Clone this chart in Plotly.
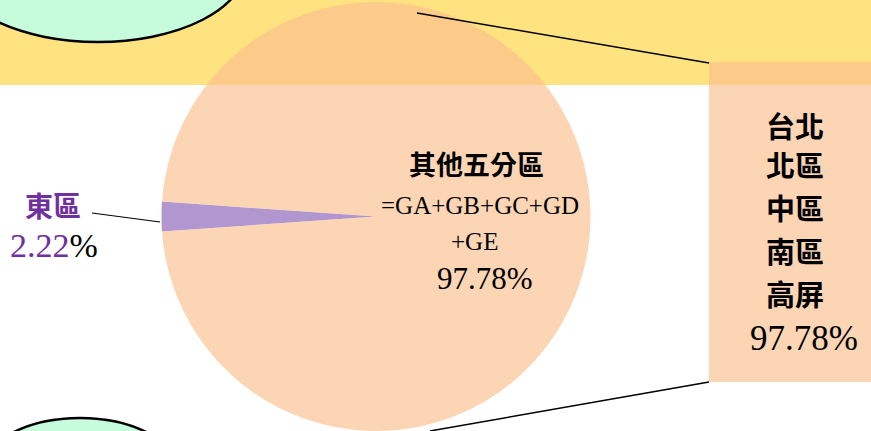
import plotly.graph_objects as go

# ---- data ----
regions = ["東區", "其他五分區"]
shares = [2.22, 97.78]
center_label_lines = ["其他五分區", "=GA+GB+GC+GD", "+GE", "97.78%"]
box_label_lines = ["台北", "北區", "中區", "南區", "高屏", "97.78%"]
east_label = "東區"
east_value = "2.22"

W, H = 871, 431
CJK = "Noto Sans CJK TC"
SERIF = "Liberation Serif, Noto Sans CJK TC"

def px(x):
    return x / W

def py(y):
    return 1 - y / H

def is_cjk(txt):
    return any(ord(c) > 0x2E80 for c in txt)

slice_colors = ["rgba(135,94,183,0.65)", "rgba(250,190,141,0.65)"]

fig = go.Figure()
fig.add_trace(go.Pie(
    labels=regions,
    values=shares,
    sort=False,
    direction="clockwise",
    rotation=266,
    marker=dict(colors=slice_colors, line=dict(width=0)),
    textinfo="none",
    hoverinfo="label+percent",
    showlegend=False,
    domain=dict(x=[px(376 - 215), px(376 + 215)], y=[0, py(2)]),
))

shapes = [
    # yellow band
    dict(type="rect", xref="paper", yref="paper", x0=0, x1=1, y0=py(85), y1=1,
         fillcolor="#FFE381", line=dict(width=0), layer="below"),
    # right box
    dict(type="rect", xref="paper", yref="paper", x0=px(709), x1=1, y0=py(382), y1=py(62),
         fillcolor="rgba(250,190,141,0.65)", line=dict(width=0), layer="above"),
    # leader lines
    dict(type="line", xref="paper", yref="paper", x0=px(417), y0=py(13), x1=px(709), y1=py(63),
         line=dict(color="black", width=1.5)),
    dict(type="line", xref="paper", yref="paper", x0=px(430), y0=py(431), x1=px(709), y1=py(382),
         line=dict(color="black", width=1.5)),
    dict(type="line", xref="paper", yref="paper", x0=px(92), y0=py(213), x1=px(160), y1=py(222),
         line=dict(color="black", width=1.2)),
    # green ellipses
    dict(type="circle", xref="paper", yref="paper", x0=px(-50), x1=px(246), y0=py(42), y1=py(-110),
         fillcolor="#C6FCDC", line=dict(color="black", width=2.5), layer="above"),
    dict(type="circle", xref="paper", yref="paper", x0=px(-25), x1=px(185), y0=py(544), y1=py(418),
         fillcolor="#C6FCDC", line=dict(color="black", width=2.5), layer="above"),
]

annotations = []
# center label
center_y = [163, 205, 241, 278]
center_x = [476, 480, 475, 485]
for txt, xx, yy in zip(center_label_lines, center_x, center_y):
    cj = is_cjk(txt)
    size = 27 if cj else (31 if "%" in txt else 25)
    annotations.append(dict(
        x=px(xx), y=py(yy), xref="paper", yref="paper", text=txt, showarrow=False,
        xanchor="center", yanchor="middle",
        font=dict(family=CJK if cj else SERIF, size=size,
                  color="black", weight="bold" if cj else "normal"),
    ))
# box label
box_y = [125, 164, 207, 250, 293, 338]
for txt, yy in zip(box_label_lines, box_y):
    cj = is_cjk(txt)
    annotations.append(dict(
        x=px(795 if cj else 804), y=py(yy), xref="paper", yref="paper", text=txt, showarrow=False,
        xanchor="center", yanchor="middle",
        font=dict(family=CJK if cj else SERIF, size=29 if cj else 35,
                  color="black", weight="bold" if cj else "normal"),
    ))
# east label
annotations.append(dict(
    x=px(53), y=py(205), xref="paper", yref="paper", text=east_label, showarrow=False,
    xanchor="center", yanchor="middle",
    font=dict(family=CJK, size=28, color="#7030A0", weight="bold"),
))
annotations.append(dict(
    x=px(54), y=py(246), xref="paper", yref="paper",
    text=f"<span style='color:#7030A0'>{east_value}</span>%", showarrow=False,
    xanchor="center", yanchor="middle",
    font=dict(family=SERIF, size=34, color="black"),
))

fig.update_layout(
    width=W, height=H,
    margin=dict(l=0, r=0, t=0, b=0, pad=0),
    paper_bgcolor="white",
    plot_bgcolor="white",
    shapes=shapes,
    annotations=annotations,
    showlegend=False,
)

fig.write_html(
    "out.html",
    config={"displayModeBar": False},
    post_script="document.body.style.margin='0';document.body.style.overflow='hidden';",
)
